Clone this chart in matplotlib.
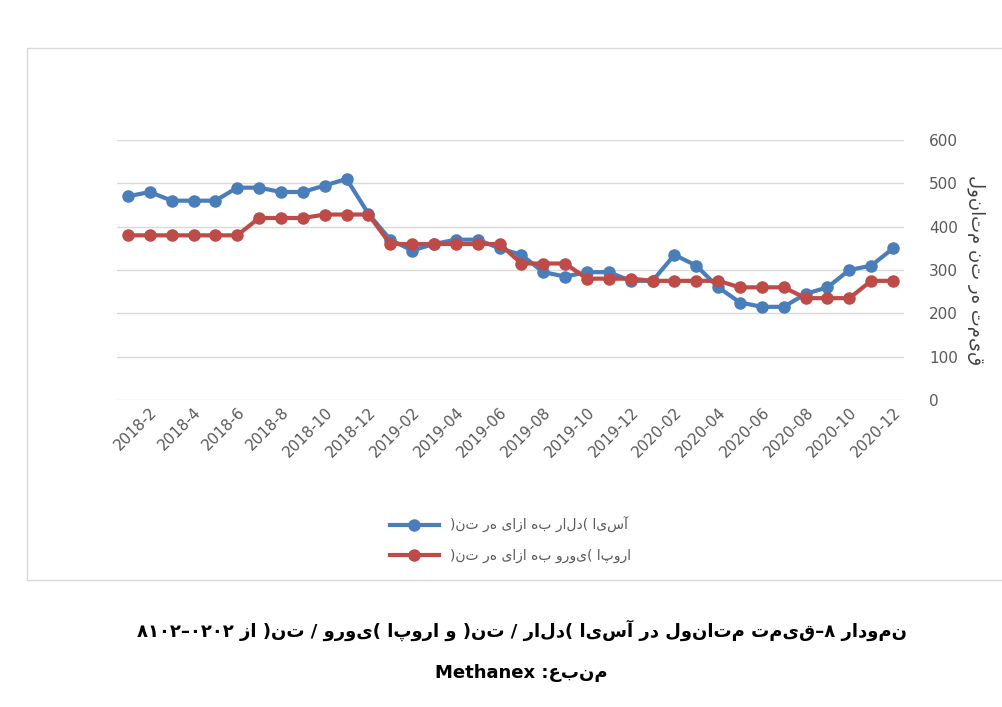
import matplotlib.pyplot as plt
from matplotlib.patches import Rectangle

months = [f"{y}-{m:02d}" if y > 2018 else f"{y}-{m}" for y in (2018, 2019, 2020) for m in range(1, 13)]
asia = [470, 480, 460, 460, 460, 490, 490, 480, 480, 495, 510, 430,
        370, 345, 360, 370, 370, 350, 335, 295, 285, 295, 295, 275,
        275, 335, 310, 260, 225, 215, 215, 245, 260, 300, 310, 350]
europe = [380, 380, 380, 380, 380, 380, 420, 420, 420, 428, 428, 428,
          360, 360, 360, 360, 360, 360, 315, 315, 315, 280, 280, 280,
          275, 275, 275, 275, 260, 260, 260, 235, 235, 235, 275, 275]

asia_label = "آسیا (دلار به ازای هر تن)"
europe_label = "اروپا (یورو به ازای هر تن)"
y_label = "قیمت هر تن متانول"
caption = "نمودار ۸–قیمت متانول در آسیا (دلار / تن) و اروپا (یورو / تن) از ۲۰۲۰–۲۰۱۸"
source = "منبع: Methanex"


def rtl(s):
    # no shaping engine available; at least show the letters right-to-left
    return s[::-1]


fig = plt.figure(figsize=(10.03, 7.07), dpi=100)
fig.patch.set_facecolor("white")
fig.add_artist(Rectangle((27 / 1003, 1 - 580 / 707), 976 / 1003, 532 / 707,
                         transform=fig.transFigure, fill=False, edgecolor="#d9d9d9", lw=1))

ax = fig.add_axes([117 / 1003, 1 - 400 / 707, 787 / 1003, 260 / 707])
x = list(range(len(months)))
ax.plot(x, asia, color="#4a7ebb", lw=3, marker="o", ms=8, label=rtl(asia_label), zorder=3)
ax.plot(x, europe, color="#be4b48", lw=3, marker="o", ms=8, label=rtl(europe_label), zorder=3)
ax.set_ylim(0, 600)
ax.set_xlim(-0.5, len(months) - 0.5)
ax.set_yticks(range(0, 601, 100))
ax.yaxis.tick_right()
ax.yaxis.set_label_position("right")
ax.tick_params(axis="y", length=0, labelsize=11, colors="#595959", pad=18)
ax.set_xticks(x[1::2])
ax.set_xticklabels(months[1::2], rotation=45, ha="right", rotation_mode="anchor",
                   fontsize=11, color="#595959")
ax.tick_params(axis="x", length=0)
ax.grid(axis="y", color="#d9d9d9", lw=1)
for s in ax.spines.values():
    s.set_visible(False)
ax.set_ylabel(rtl(y_label), rotation=270, labelpad=20, fontsize=13, color="#404040")

leg = ax.legend(loc="upper center", bbox_to_anchor=(0.5, -0.4), frameon=False,
                fontsize=10, labelcolor="#595959", handlelength=3.5, labelspacing=1.2)

fig.text(0.52, 1 - 630 / 707, rtl(caption), ha="center", va="center", fontsize=13, weight="bold")
fig.text(0.52, 1 - 673 / 707, "Methanex :" + rtl("منبع"), ha="center", va="center", fontsize=13, weight="bold")

fig.savefig("out.png", dpi=100)
